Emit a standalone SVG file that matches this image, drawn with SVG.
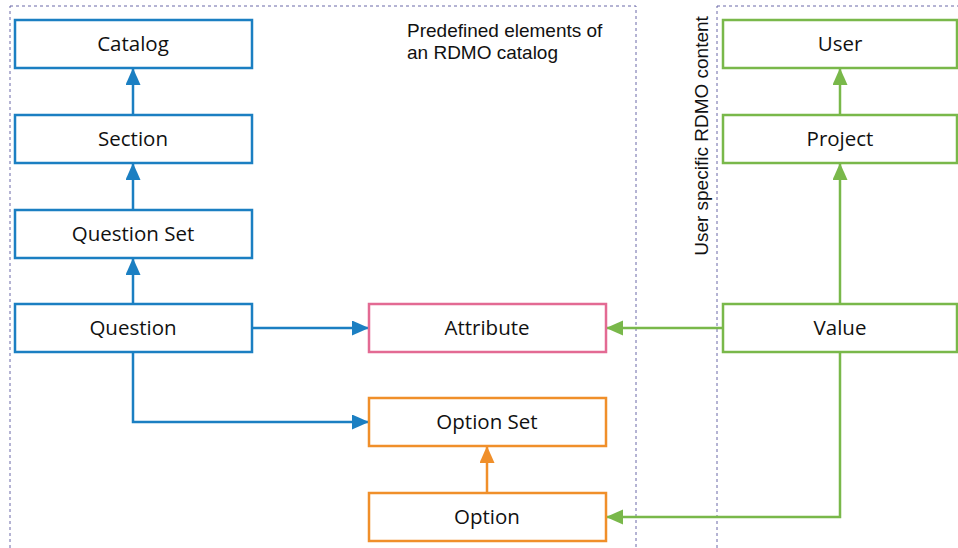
<svg xmlns="http://www.w3.org/2000/svg" width="958" height="548" viewBox="0 0 958 548">
  <style>
    .region { fill: none; stroke: #6a68a8; stroke-width: 1; stroke-dasharray: 3 3; }
    .box { fill: #ffffff; stroke-width: 2.5; }
    .blue { stroke: #1b7fc2; }
    .green { stroke: #79b84a; }
    .orange { stroke: #f08f2a; }
    .pink { stroke: #e36a93; }
    .label { font-family: "Open Sans", "Noto Sans", sans-serif; font-size: 20.5px; fill: #111111; text-anchor: middle; }
    .note { font-family: "Liberation Sans", Arial, sans-serif; font-size: 19px; fill: #111111; }
    .link { fill: none; stroke-width: 2.5; }
  </style>
  <defs>
    <marker id="arrBlue" markerUnits="userSpaceOnUse" markerWidth="18" markerHeight="16" refX="17" refY="7.5" orient="auto">
      <path d="M0,0 L17,7.5 L0,15 Z" fill="#1b7fc2"/>
    </marker>
    <marker id="arrGreen" markerUnits="userSpaceOnUse" markerWidth="18" markerHeight="16" refX="17" refY="7.5" orient="auto">
      <path d="M0,0 L17,7.5 L0,15 Z" fill="#79b84a"/>
    </marker>
    <marker id="arrOrange" markerUnits="userSpaceOnUse" markerWidth="18" markerHeight="16" refX="17" refY="7.5" orient="auto">
      <path d="M0,0 L17,7.5 L0,15 Z" fill="#f08f2a"/>
    </marker>
  </defs>

  <rect width="958" height="548" fill="#ffffff"/>

  <!-- regions -->
  <g id="regions">
    <rect class="region" x="10" y="6" width="626" height="560"/>
    <rect class="region" x="717" y="6" width="260" height="560"/>
    <text class="note" x="407" y="37">Predefined elements of</text>
    <text class="note" x="407" y="59">an RDMO catalog</text>
    <text class="note" x="0" y="0" transform="translate(708,136) rotate(-90)" text-anchor="middle">User specific RDMO content</text>
  </g>

  <!-- connectors -->
  <g id="connectors">
    <line class="link blue" x1="133" y1="115" x2="133" y2="68" marker-end="url(#arrBlue)"/>
    <line class="link blue" x1="133" y1="210" x2="133" y2="163" marker-end="url(#arrBlue)"/>
    <line class="link blue" x1="133" y1="304" x2="133" y2="258" marker-end="url(#arrBlue)"/>
    <line class="link blue" x1="252" y1="328" x2="369" y2="328" marker-end="url(#arrBlue)"/>
    <polyline class="link blue" points="133,352 133,422 369,422" marker-end="url(#arrBlue)"/>
    <line class="link orange" x1="487" y1="493" x2="487" y2="446" marker-end="url(#arrOrange)"/>
    <line class="link green" x1="723" y1="328" x2="606" y2="328" marker-end="url(#arrGreen)"/>
    <polyline class="link green" points="840,352 840,517 606,517" marker-end="url(#arrGreen)"/>
    <line class="link green" x1="840" y1="304" x2="840" y2="163" marker-end="url(#arrGreen)"/>
    <line class="link green" x1="840" y1="115" x2="840" y2="68" marker-end="url(#arrGreen)"/>
  </g>

  <!-- nodes -->
  <g id="catalog">
    <rect class="box blue" x="15" y="20" width="237" height="48"/>
    <text class="label" x="133" y="51">Catalog</text>
  </g>
  <g id="section">
    <rect class="box blue" x="15" y="115" width="237" height="48"/>
    <text class="label" x="133" y="146">Section</text>
  </g>
  <g id="question-set">
    <rect class="box blue" x="15" y="210" width="237" height="48"/>
    <text class="label" x="133" y="241">Question Set</text>
  </g>
  <g id="question">
    <rect class="box blue" x="15" y="304" width="237" height="48"/>
    <text class="label" x="133" y="335">Question</text>
  </g>
  <g id="attribute">
    <rect class="box pink" x="369" y="304" width="237" height="48"/>
    <text class="label" x="487" y="335">Attribute</text>
  </g>
  <g id="option-set">
    <rect class="box orange" x="369" y="398" width="237" height="48"/>
    <text class="label" x="487" y="429">Option Set</text>
  </g>
  <g id="option">
    <rect class="box orange" x="369" y="493" width="237" height="48"/>
    <text class="label" x="487" y="524">Option</text>
  </g>
  <g id="user">
    <rect class="box green" x="723" y="20" width="234" height="48"/>
    <text class="label" x="840" y="51">User</text>
  </g>
  <g id="project">
    <rect class="box green" x="723" y="115" width="234" height="48"/>
    <text class="label" x="840" y="146">Project</text>
  </g>
  <g id="value">
    <rect class="box green" x="723" y="304" width="234" height="48"/>
    <text class="label" x="840" y="335">Value</text>
  </g>
</svg>
